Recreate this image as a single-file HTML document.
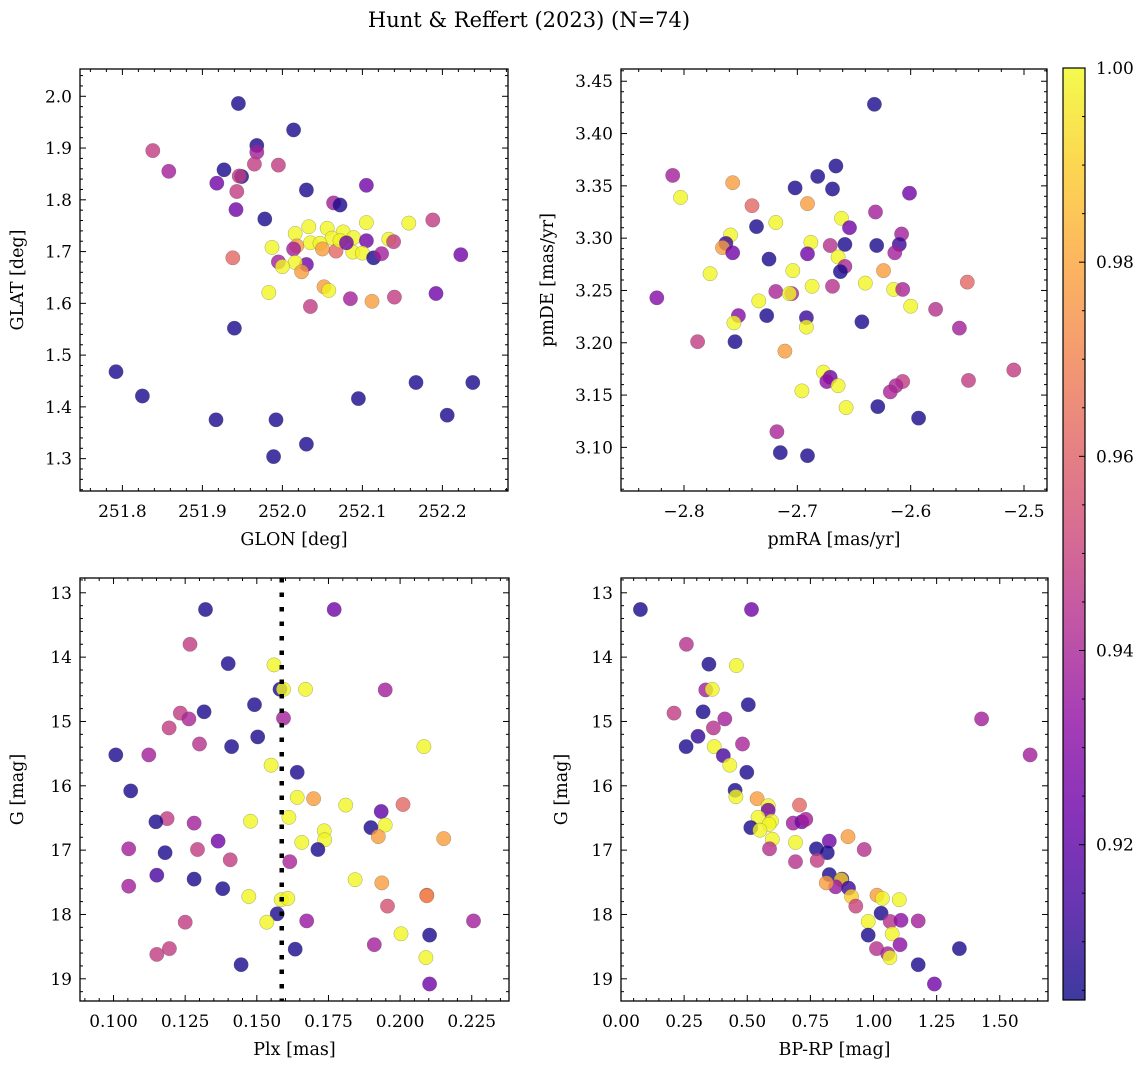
<!DOCTYPE html>
<html><head><meta charset="utf-8">
<style>
html,body{margin:0;padding:0;background:#fff;}
svg{display:block;font-family:"DejaVu Serif","Liberation Serif",serif;}
</style></head>
<body>
<svg id="fig" width="1148" height="1068" viewBox="0 0 1148 1068" xmlns="http://www.w3.org/2000/svg">
<defs>
<linearGradient id="plasma" x1="0" y1="1" x2="0" y2="0">
<stop offset="0" stop-color="#0d0887"/><stop offset="0.1" stop-color="#41049d"/><stop offset="0.2" stop-color="#6a00a8"/><stop offset="0.3" stop-color="#8f0da4"/><stop offset="0.4" stop-color="#b12a90"/><stop offset="0.5" stop-color="#cc4778"/><stop offset="0.6" stop-color="#e16462"/><stop offset="0.7" stop-color="#f2844b"/><stop offset="0.8" stop-color="#fca636"/><stop offset="0.9" stop-color="#fcce25"/><stop offset="1" stop-color="#f0f921"/>
</linearGradient>
</defs>
<text x="529" y="27" text-anchor="middle" font-size="21">Hunt &amp; Reffert (2023) (N=74)</text>
</svg>
<script>
// ---------- data ----------
const glon = [251.945,252.014,251.968,251.968,251.838,251.858,251.965,251.995,251.927,251.949,251.946,251.918,251.943,252.030,252.105,252.064,252.072,251.942,251.978,252.188,252.158,252.105,252.033,252.056,252.016,252.076,252.089,252.062,252.035,252.047,252.133,252.139,252.105,251.987,252.018,252.014,252.050,252.067,252.088,252.100,252.114,252.124,252.223,251.938,251.995,252.030,252.016,252.000,252.024,252.052,252.058,251.983,252.085,252.112,252.140,252.192,252.035,251.940,251.792,251.825,252.167,252.238,252.095,252.206,251.917,251.992,252.030,251.989,252.072,252.080];
const glat = [1.986,1.935,1.905,1.892,1.895,1.855,1.869,1.867,1.858,1.845,1.846,1.832,1.816,1.819,1.828,1.794,1.790,1.781,1.763,1.761,1.755,1.756,1.748,1.745,1.735,1.738,1.727,1.726,1.717,1.716,1.724,1.719,1.721,1.708,1.711,1.705,1.705,1.701,1.699,1.697,1.688,1.696,1.694,1.688,1.680,1.675,1.679,1.671,1.661,1.632,1.625,1.621,1.609,1.604,1.612,1.619,1.594,1.552,1.468,1.421,1.447,1.447,1.416,1.384,1.375,1.375,1.328,1.304,1.721,1.717];
const probA = [0.906,0.906,0.906,0.938,0.948,0.938,0.948,0.948,0.906,0.906,0.948,0.925,0.948,0.906,0.925,0.938,0.906,0.925,0.906,0.948,0.999,0.999,0.999,0.999,0.999,0.999,0.999,0.999,0.999,0.999,0.999,0.948,0.925,0.999,0.978,0.938,0.978,0.962,0.999,0.999,0.906,0.938,0.925,0.962,0.938,0.925,0.999,0.999,0.978,0.978,0.999,0.999,0.938,0.978,0.948,0.925,0.948,0.906,0.906,0.906,0.906,0.906,0.906,0.906,0.906,0.906,0.906,0.906,0.999,0.925];

const pmra = [-2.632,-2.810,-2.803,-2.757,-2.666,-2.682,-2.702,-2.669,-2.601,-2.691,-2.740,-2.631,-2.661,-2.719,-2.736,-2.654,-2.608,-2.759,-2.688,-2.763,-2.658,-2.671,-2.630,-2.610,-2.766,-2.757,-2.691,-2.614,-2.725,-2.664,-2.658,-2.662,-2.704,-2.624,-2.777,-2.550,-2.640,-2.687,-2.669,-2.615,-2.607,-2.719,-2.705,-2.707,-2.824,-2.734,-2.600,-2.578,-2.727,-2.752,-2.692,-2.643,-2.756,-2.692,-2.557,-2.788,-2.755,-2.711,-2.509,-2.677,-2.671,-2.674,-2.607,-2.549,-2.613,-2.664,-2.618,-2.696,-2.629,-2.657,-2.593,-2.718,-2.715,-2.691];
const pmde = [3.428,3.360,3.339,3.353,3.369,3.359,3.348,3.347,3.343,3.333,3.331,3.325,3.319,3.315,3.311,3.310,3.304,3.303,3.296,3.295,3.294,3.293,3.293,3.294,3.291,3.286,3.285,3.286,3.280,3.282,3.273,3.268,3.269,3.269,3.266,3.258,3.257,3.254,3.254,3.251,3.251,3.249,3.247,3.247,3.243,3.240,3.235,3.232,3.226,3.226,3.224,3.220,3.219,3.215,3.214,3.201,3.201,3.192,3.174,3.172,3.167,3.163,3.163,3.164,3.159,3.159,3.153,3.154,3.139,3.138,3.128,3.115,3.095,3.092];
const probB = [0.906,0.938,0.999,0.978,0.906,0.906,0.906,0.906,0.925,0.978,0.962,0.938,0.999,0.999,0.906,0.925,0.938,0.999,0.999,0.912,0.906,0.944,0.906,0.912,0.978,0.925,0.925,0.938,0.906,0.999,0.940,0.906,0.999,0.978,0.999,0.962,0.999,0.999,0.944,0.999,0.940,0.940,0.940,0.999,0.930,0.999,0.999,0.944,0.906,0.930,0.912,0.906,0.999,0.999,0.938,0.948,0.906,0.978,0.948,0.999,0.925,0.932,0.948,0.948,0.940,0.999,0.940,0.999,0.906,0.999,0.906,0.940,0.906,0.906];

const plx = [0.1321,0.1770,0.1267,0.1400,0.1560,0.1581,0.1593,0.1670,0.1948,0.1492,0.1316,0.1233,0.1263,0.1593,0.1194,0.1503,0.1300,0.1412,0.2083,0.1008,0.1123,0.1550,0.1641,0.1060,0.1641,0.1698,0.1810,0.2010,0.1934,0.1612,0.1187,0.1148,0.1281,0.1478,0.1898,0.1948,0.1735,0.1924,0.1737,0.2152,0.1365,0.1657,0.1053,0.1293,0.1713,0.1180,0.1407,0.1615,0.1151,0.1281,0.1843,0.1936,0.1053,0.1381,0.1472,0.1585,0.1608,0.2093,0.2093,0.1956,0.1571,0.1250,0.1535,0.1674,0.2256,0.2003,0.2103,0.1910,0.1195,0.1634,0.1151,0.2090,0.1445,0.2103];
const gmagC = [13.26,13.26,13.80,14.10,14.12,14.50,14.50,14.50,14.51,14.74,14.85,14.87,14.96,14.95,15.10,15.24,15.35,15.39,15.39,15.52,15.52,15.68,15.79,16.08,16.18,16.20,16.30,16.29,16.40,16.49,16.51,16.56,16.58,16.55,16.65,16.61,16.70,16.79,16.84,16.82,16.86,16.88,16.98,16.99,16.99,17.04,17.15,17.18,17.39,17.45,17.46,17.51,17.56,17.60,17.72,17.77,17.75,17.70,17.71,17.87,17.99,18.12,18.12,18.10,18.10,18.30,18.32,18.47,18.53,18.54,18.62,18.67,18.78,19.08];
const probC = [0.906,0.925,0.948,0.906,0.999,0.906,0.999,0.999,0.938,0.906,0.906,0.948,0.940,0.938,0.948,0.906,0.944,0.906,0.999,0.906,0.938,0.999,0.906,0.906,0.999,0.978,0.999,0.962,0.920,0.999,0.948,0.906,0.938,0.999,0.906,0.999,0.999,0.978,0.999,0.978,0.925,0.999,0.938,0.948,0.906,0.906,0.948,0.940,0.915,0.906,0.999,0.978,0.938,0.906,0.999,0.999,0.999,0.962,0.972,0.955,0.906,0.948,0.999,0.935,0.938,0.999,0.906,0.938,0.948,0.906,0.948,0.999,0.906,0.925];

const bprp = [0.077,0.517,0.259,0.348,0.457,0.336,0.361,0.504,0.210,0.325,0.411,0.366,0.305,0.258,0.369,0.481,0.405,0.431,0.498,0.452,0.455,0.539,0.707,0.583,0.583,0.543,0.682,0.716,0.732,0.596,0.586,0.514,0.550,0.899,0.825,0.599,0.691,0.588,0.774,0.963,0.817,0.777,0.691,0.825,0.875,0.872,0.850,0.813,0.901,0.913,1.014,1.035,1.102,0.930,1.030,0.979,1.066,1.109,1.177,1.074,0.979,1.105,1.012,1.340,1.056,1.065,1.177,1.241,1.428,1.620];
const gmagD = [13.26,13.26,13.80,14.11,14.13,14.51,14.50,14.74,14.87,14.85,14.96,15.10,15.23,15.39,15.39,15.35,15.53,15.68,15.79,16.07,16.17,16.20,16.30,16.31,16.38,16.49,16.58,16.56,16.52,16.55,16.60,16.65,16.69,16.79,16.86,16.83,16.88,16.98,16.98,16.99,17.04,17.16,17.18,17.38,17.45,17.46,17.57,17.51,17.59,17.72,17.70,17.75,17.77,17.87,17.98,18.11,18.11,18.09,18.10,18.30,18.32,18.47,18.53,18.53,18.61,18.67,18.78,19.08,14.96,15.52];
const probD = [0.906,0.925,0.944,0.906,0.999,0.938,0.999,0.906,0.948,0.906,0.938,0.944,0.910,0.906,0.999,0.940,0.915,0.999,0.906,0.906,0.999,0.978,0.962,0.999,0.925,0.999,0.938,0.925,0.938,0.999,0.999,0.906,0.999,0.978,0.925,0.999,0.999,0.944,0.906,0.944,0.906,0.948,0.944,0.906,0.906,0.990,0.935,0.978,0.912,0.990,0.978,0.999,0.999,0.950,0.906,0.999,0.944,0.932,0.938,0.999,0.906,0.932,0.944,0.906,0.938,0.999,0.906,0.925,0.938,0.938];

const parallaxCut = 0.1587;
const cbTicks = [0.92,0.94,0.96,0.98,1.00];
const vmin = 0.904, vmax = 1.0;

// ---------- rendering ----------
const NS = "http://www.w3.org/2000/svg";
const fig = document.getElementById('fig');
const TICK_FS = 17, LABEL_FS = 17.5;
const stops = [[0,13,8,135],[0.1,65,4,157],[0.2,106,0,168],[0.3,143,13,164],[0.4,177,42,144],[0.5,204,71,120],[0.6,225,100,98],[0.7,242,132,75],[0.8,252,166,54],[0.9,252,206,37],[1,240,249,33]];
function cmap(v){
  let t=(v-vmin)/(vmax-vmin); t=Math.max(0,Math.min(1,t));
  for(let i=1;i<stops.length;i++){ if(t<=stops[i][0]){ const a=stops[i-1],b=stops[i],f=(t-a[0])/(b[0]-a[0]);
    return `rgb(${Math.round(a[1]+f*(b[1]-a[1]))},${Math.round(a[2]+f*(b[2]-a[2]))},${Math.round(a[3]+f*(b[3]-a[3]))})`; } }
  return 'rgb(240,249,33)';
}
function mk(tag, attrs, parent){ const e=document.createElementNS(NS,tag); for(const k in attrs) e.setAttribute(k,attrs[k]); (parent||fig).appendChild(e); return e; }
function fmt(v,d){ const s=Math.abs(v).toFixed(d); return (v<0?'\u2212':'')+s; }

function panel(p){
  const g=mk('g',{});
  
  
  const sx=v=>p.L+(v-p.x0)/(p.x1-p.x0)*(p.R-p.L);
  const sy=v=>p.yInv ? p.T+(v-p.y0)/(p.y1-p.y0)*(p.B-p.T) : p.B-(v-p.y0)/(p.y1-p.y0)*(p.B-p.T);
  for(let i=0;i<p.xs.length;i++){
    const c=mk('circle',{cx:sx(p.xs[i]).toFixed(1),cy:sy(p.ys[i]).toFixed(1),r:7.2,fill:cmap(p.cs[i]),'fill-opacity':0.8,stroke:'#555','stroke-opacity':0.5,'stroke-width':0.5},g);
    
    
  }
  if(p.extra) p.extra(g,sx,sy);
  const fr=mk('rect',{x:p.L,y:p.T,width:p.R-p.L,height:p.B-p.T,fill:'none',stroke:'#000','stroke-width':1.3},g);
  
  
  const eps=1e-9;
  for(let v=Math.ceil(p.x0/p.xmin-eps)*p.xmin; v<=p.x1+eps; v+=p.xmin){
    const X=sx(v), isMaj=Math.abs(v/p.xmaj-Math.round(v/p.xmaj))<1e-6, len=isMaj?6:3;
    mk('line',{x1:X,x2:X,y1:p.B,y2:p.B-len,stroke:'#000','stroke-width':1},g);
    mk('line',{x1:X,x2:X,y1:p.T,y2:p.T+len,stroke:'#000','stroke-width':1},g);
  }
  for(let v=Math.ceil(p.y0/p.ymin-eps)*p.ymin; v<=p.y1+eps; v+=p.ymin){
    const Y=sy(v), isMaj=Math.abs(v/p.ymaj-Math.round(v/p.ymaj))<1e-6, len=isMaj?6:3;
    mk('line',{x1:p.L,x2:p.L+len,y1:Y,y2:Y,stroke:'#000','stroke-width':1},g);
    mk('line',{x1:p.R,x2:p.R-len,y1:Y,y2:Y,stroke:'#000','stroke-width':1},g);
  }
  p.xt.forEach(v=>{ const t=mk('text',{x:sx(v),y:p.B+26,'text-anchor':'middle','font-size':TICK_FS},g); t.textContent=fmt(v,p.xd);
    
     });
  p.yt.forEach(v=>{ const t=mk('text',{x:p.L-8,y:sy(v)+6,'text-anchor':'end','font-size':TICK_FS},g); t.textContent=fmt(v,p.yd);
    
     });
  const xl=mk('text',{x:(p.L+p.R)/2,y:p.B+54,'text-anchor':'middle','font-size':LABEL_FS},g); xl.textContent=p.xlabel;
  
  
  const yc=(p.T+p.B)/2;
  const yl=mk('text',{x:p.ylx,y:yc,'text-anchor':'middle','font-size':LABEL_FS,transform:`rotate(-90 ${p.ylx} ${yc})`},g); yl.textContent=p.ylabel;
  
  
}

const rng=(a,b,s)=>{const r=[];for(let v=a;v<=b+1e-9;v+=s)r.push(+v.toFixed(4));return r;};

panel({name:'glon-glat-panel',L:80,R:508,T:69,B:491,x0:251.747,x1:252.282,y0:1.2375,y1:2.0527,xs:glon,ys:glat,cs:probA,
  xmaj:0.1,xmin:0.02,ymaj:0.1,ymin:0.02,xt:rng(251.8,252.2,0.1),yt:rng(1.3,2.0,0.1),xd:1,yd:1,xlabel:'GLON [deg]',ylabel:'GLAT [deg]',ylx:23});
panel({name:'proper-motion-panel',L:621,R:1047,T:69,B:491,x0:-2.8556,x1:-2.4797,y0:3.0583,y1:3.4617,xs:pmra,ys:pmde,cs:probB,
  xmaj:0.1,xmin:0.02,ymaj:0.05,ymin:0.01,xt:rng(-2.8,-2.5,0.1),yt:rng(3.10,3.45,0.05),xd:1,yd:2,xlabel:'pmRA [mas/yr]',ylabel:'pmDE [mas/yr]',ylx:553});
panel({name:'parallax-magnitude-panel',L:80,R:509,T:578,B:1001,x0:0.0883,x1:0.2380,y0:12.77,y1:19.345,yInv:true,xs:plx,ys:gmagC,cs:probC,
  xmaj:0.025,xmin:0.005,ymaj:1,ymin:0.2,xt:rng(0.1,0.225,0.025),yt:rng(13,19,1),xd:3,yd:0,xlabel:'Plx [mas]',ylabel:'G [mag]',ylx:23,
  extra:(g,sx,sy)=>{ const X=sx(parallaxCut); const l=mk('line',{x1:X,x2:X,y1:578,y2:1001,stroke:'#000','stroke-width':4.5,'stroke-dasharray':'4.5 10'},g);
    
     }});
panel({name:'color-magnitude-panel',L:621,R:1048,T:578,B:1001,x0:0.0,x1:1.691,y0:12.77,y1:19.345,yInv:true,xs:bprp,ys:gmagD,cs:probD,
  xmaj:0.25,xmin:0.05,ymaj:1,ymin:0.2,xt:rng(0,1.5,0.25),yt:rng(13,19,1),xd:2,yd:0,xlabel:'BP-RP [mag]',ylabel:'G [mag]',ylx:567});

const cb=mk('g',{});


const cT=68,cB=1000,cL=1063,cR=1085;
const cy=v=>cB-(v-vmin)/(vmax-vmin)*(cB-cT);
mk('rect',{x:cL,y:cT,width:cR-cL,height:cB-cT,fill:'url(#plasma)','fill-opacity':0.8},cb);
mk('rect',{x:cL,y:cT,width:cR-cL,height:cB-cT,fill:'none',stroke:'#000','stroke-width':1.2},cb);
for(let v=0.905; v<=1.0001; v+=0.005){ const Y=cy(v); const maj=Math.abs(v*50-Math.round(v*50))<1e-6;
  mk('line',{x1:cR,x2:cR-(maj?6:3),y1:Y,y2:Y,stroke:'#000','stroke-width':1},cb); }
cbTicks.forEach(v=>{ const t=mk('text',{x:cR+11,y:cy(v)+6,'font-size':TICK_FS},cb); t.textContent=v.toFixed(2);
  
   });
</script>
</body></html>
